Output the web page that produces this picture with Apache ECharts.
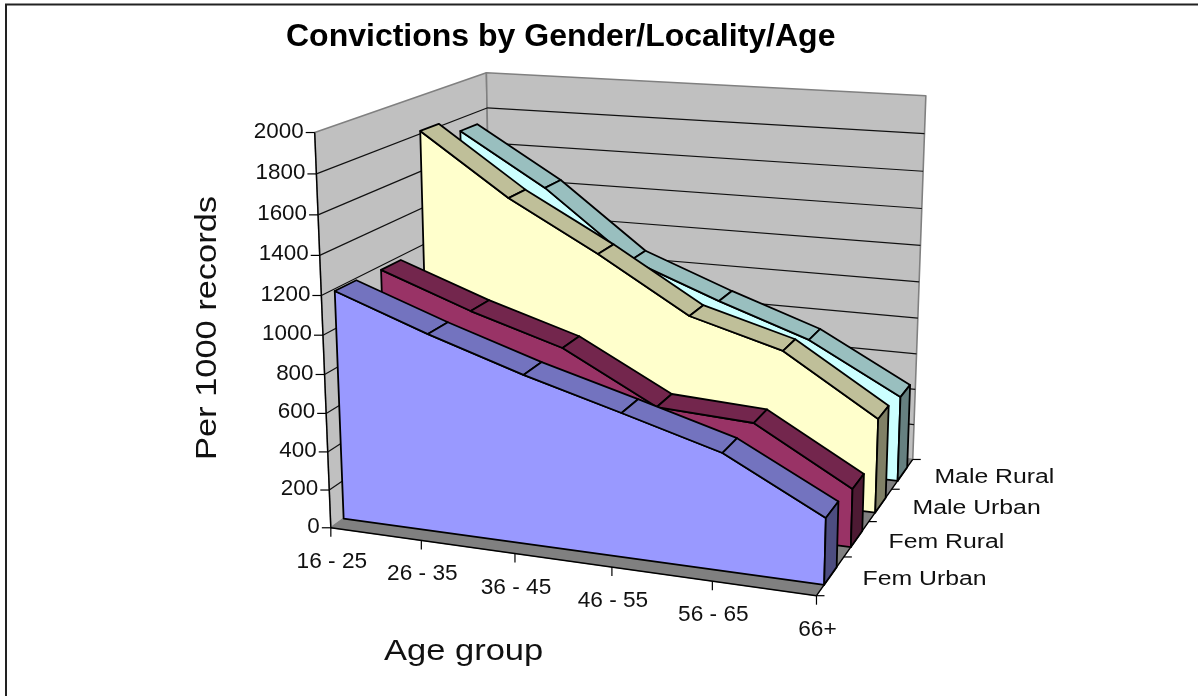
<!DOCTYPE html>
<html><head><meta charset="utf-8">
<style>html,body{margin:0;padding:0;background:#fff}#c{width:1198px;height:696px}</style>
<script src="https://cdn.jsdelivr.net/npm/echarts@6/dist/echarts.min.js"></script>
</head><body><div id="c"></div>
<script>
const ageGroups=['16 - 25','26 - 35','36 - 45','46 - 55','56 - 65','66+'];
const depthNames=['Fem Urban','Fem Rural','Male Urban','Male Rural'];
const femUrban=[1189,1017,862,726,586,330];
const femRural=[1178,1005,859,604,577,299];
const maleUrban=[1815,1489,1229,942,805,499];
const maleRural=[1730,1445,1081,896,728,465];
const yTicks=[0,200,400,600,800,1000,1200,1400,1600,1800,2000];
const anchors=[[0,0,0,331,528],[0,1,0,315,132],[0,1,1,486,73],[1,1,1,926,96],[1,0,1,913,459],[1,0,0,816,596]];
function solve(){
  const A=[],b=[];
  anchors.forEach(([u,v,w,x,y])=>{
    const X=x/1000,Y=y/1000;
    A.push([u,v,w,1,0,0,0,0,-X*u,-X*v,-X*w]);b.push(X);
    A.push([0,0,0,0,u,v,w,1,-Y*u,-Y*v,-Y*w]);b.push(Y);
  });
  const n=11,M=[];
  for(let i=0;i<n;i++){M.push(new Array(n+1).fill(0));
    for(let j=0;j<n;j++)for(let k=0;k<A.length;k++)M[i][j]+=A[k][i]*A[k][j];
    for(let k=0;k<A.length;k++)M[i][n]+=A[k][i]*b[k];
    M[i][i]+=1e-9;}
  for(let i=0;i<n;i++){let p=i;for(let r=i+1;r<n;r++)if(Math.abs(M[r][i])>Math.abs(M[p][i]))p=r;
    [M[i],M[p]]=[M[p],M[i]];
    for(let r=0;r<n;r++)if(r!==i){const f=M[r][i]/M[i][i];for(let c=i;c<=n;c++)M[r][c]-=f*M[i][c];}}
  return M.map((r,i)=>r[n]/r[i]);
}
const H=solve();
function P(u,v,w){const d=H[8]*u+H[9]*v+H[10]*w+1;
  return [1000*(H[0]*u+H[1]*v+H[2]*w+H[3])/d,1000*(H[4]*u+H[5]*v+H[6]*w+H[7])/d];}
const W=[[.068,.182],[.318,.432],[.568,.682],[.818,.932]];
const colors=[['#9999FF','#7373BF','#4D4D80'],['#993366','#73264D','#4D1A33'],['#FFFFCC','#BFBF99','#808066'],['#CCFFFF','#99BFBF','#668080']];
const values=[femUrban,femRural,maleUrban,maleRural];
const GRID={left:100,top:100,width:500,height:300};
const LW=1.8;
function uv(api,params,i,val){const c=api.coord([i,val]);const s=params.coordSys;return [(c[0]-s.x)/s.width,(s.y+s.height-c[1])/s.height];}
function poly(points,fill,stroke,lw){return {type:'polygon',shape:{points},style:{fill,stroke:stroke||fill,lineWidth:lw==null?1:lw,lineJoin:'round'}};}
function line(a,b,stroke,lw){return {type:'line',shape:{x1:a[0],y1:a[1],x2:b[0],y2:b[1]},style:{stroke,lineWidth:lw||1}};}
function txt(x,y,text,size,align,sx){return {type:'text',x,y,scaleX:sx||1,style:{text,fill:'#111',font:size+'px "Liberation Sans"',align:align||'center',verticalAlign:'middle'}};}
function areaSeries(s){
  const c=colors[s],[w0,w1]=W[s],vals=values[s];
  return {type:'custom',name:depthNames[s],coordinateSystem:'cartesian2d',clip:false,z:10+(3-s),
    data:vals.map((v,i)=>[i,v]),encode:{x:0,y:1},silent:true,
    renderItem(params,api){
      const i=api.value(0),v=api.value(1),ch=[];
      const [u,h]=uv(api,params,i,v);const [,zb]=uv(api,params,i,0);
      if(i===0){
        const last=uv(api,params,vals.length-1,0)[0];
        const top=vals.map((y,k)=>{const q=uv(api,params,k,y);return P(q[0],q[1],w0);});
        ch.push(poly([P(0,zb,w0)].concat(top,[P(last,zb,w0)]),c[0],'#000',LW));
      }
      if(i<vals.length-1){
        const [u2,h2]=uv(api,params,i+1,vals[i+1]);
        ch.push(poly([P(u,h,w0),P(u,h,w1),P(u2,h2,w1),P(u2,h2,w0)],c[1],'#000',LW));
      } else {
        ch.push(poly([P(u,zb,w0),P(u,h,w0),P(u,h,w1),P(u,zb,w1)],c[2],'#000',LW));
      }
      return {type:'group',children:ch};
    }};
}
const frameSeries={type:'custom',name:'frame',coordinateSystem:'cartesian2d',clip:false,z:2,silent:true,
  data:yTicks.map(t=>[0,t]),encode:{x:0,y:1},
  renderItem(params,api){
    const t=api.value(1);const [,v]=uv(api,params,0,t);const ch=[];
    if(params.dataIndex===0){
      ch.push(poly([P(0,0,0),P(0,1,0),P(0,1,1),P(0,0,1)],'#C0C0C0','#808080',1.6));
      ch.push(poly([P(0,0,1),P(0,1,1),P(1,1,1),P(1,0,1)],'#C0C0C0','#808080',1.6));
      ch.push(poly([P(0,0,0),P(0,0,1),P(1,0,1),P(1,0,0)],'#808080','#808080',1));
      ch.push(line(P(0,0,0),P(1,0,0),'#000',1.4));
      ch.push(line(P(1,0,0),P(1,0,1),'#000',1.4));
      ch.push(line(P(0,0,0),P(0,1,0),'#000',1.4));
    }
    if(t>0&&t<2000){ch.push(line(P(0,v,0),P(0,v,1),'#111',1.2));ch.push(line(P(0,v,1),P(1,v,1),'#111',1.2));}
    const a=P(0,v,0);
    ch.push(line([a[0]-9,a[1]],a,'#000',1.2));
    ch.push(txt(a[0]-11,a[1]-1,String(t),22,'right',1.02));
    return {type:'group',children:ch};
  }};
const xLabelSeries={type:'custom',name:'ages',coordinateSystem:'cartesian2d',clip:false,z:3,silent:true,
  data:ageGroups.map((a,i)=>[i,0]),encode:{x:0,y:1},
  renderItem(params,api){
    const i=api.value(0),[u]=uv(api,params,i,0),a=P(u,0,0);
    return {type:'group',children:[line(a,[a[0],a[1]+9],'#000',1.2),txt(a[0]+1,a[1]+34,ageGroups[i],22,'center',1.03)]};
  }};
const depthSeries={type:'custom',name:'depth',coordinateSystem:'cartesian2d',clip:false,z:3,silent:true,
  data:[0,1,2,3,4].map(i=>[5,0,i]),encode:{x:0,y:1},
  renderItem(params,api){
    const i=api.value(2),[u]=uv(api,params,5,0),a=P(u,0,i/4),ch=[line(a,[a[0]+8,a[1]],'#000',1.2)];
    if(i<4){const m=P(u,0,(i+.5)/4);ch.push(txt(m[0]+32,m[1]+3.5,depthNames[i],20,'left',1.24));}
    return {type:'group',children:ch};
  }};
const option={animation:false,backgroundColor:'#fff',
  title:{text:'Convictions by Gender/Locality/Age',left:286,top:21,padding:0,textStyle:{fontFamily:'Liberation Sans',fontWeight:'bold',fontSize:32,color:'#000'}},
  grid:GRID,
  xAxis:{type:'category',data:ageGroups,boundaryGap:false,show:false},
  yAxis:{type:'value',min:0,max:2000,interval:200,show:false},
  graphic:[
    {type:'polyline',shape:{points:[[6,696],[6,4.5],[1198,4.5]]},style:{stroke:'#222',lineWidth:2,fill:null},silent:true},
    {type:'text',x:384,y:652,style:{text:'Age group',font:'29px "Liberation Sans"',fill:'#111',verticalAlign:'middle'},scaleX:1.19,silent:true},
    {type:'text',x:208,y:328,rotation:Math.PI/2,style:{text:'Per 1000 records',font:'30px "Liberation Sans"',fill:'#111',align:'center',verticalAlign:'middle'},scaleX:1.147,silent:true}
  ],
  series:[frameSeries,xLabelSeries,depthSeries,areaSeries(3),areaSeries(2),areaSeries(1),areaSeries(0)]
};
echarts.init(document.getElementById('c'),null,{renderer:'canvas'}).setOption(option);
</script></body></html>
